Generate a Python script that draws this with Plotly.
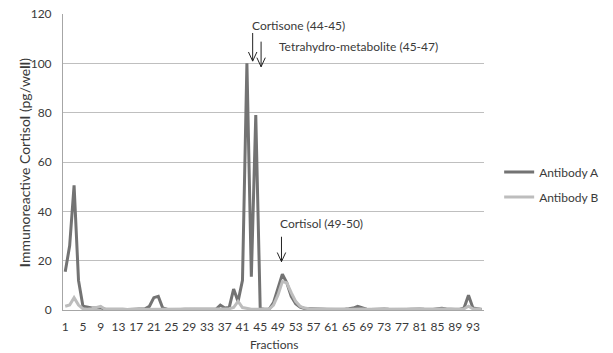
import plotly.graph_objects as go

fractions = list(range(1, 96))

antibody_a = [
    15.5, 26, 50.5, 12, 1.5, 1, 0.8, 0.8, 0.9, 0.3,
    0.3, 0.3, 0.6, 0.3, 0.2, 0.2, 0.2, 0.3, 0.5, 1.5,
    5, 5.5, 0.8, 0.3, 0.2, 0.2, 0.2, 0.3, 0.3, 0.2,
    0.2, 0.2, 0.2, 0.2, 0.3, 2, 0.8, 1, 8.5, 3.5,
    12, 100, 13.5, 79, 0.5, 0.3, 0.3, 3, 9, 14.5,
    11, 5.5, 2.5, 1.2, 0.6, 0.5, 0.4, 0.3, 0.5, 0.3,
    0.3, 0.2, 0.2, 0.3, 0.5, 0.8, 1.5, 0.8, 0.3, 0.2,
    0.3, 0.6, 0.4, 0.3, 0.2, 0.1, 0.1, 0.2, 0.3, 0.5,
    0.4, 0.3, 0.2, 0.2, 0.5, 0.7, 0.4, 0.2, 0.2, 0.2,
    0.8, 6, 0.8, 0.5, 0.2,
]

antibody_b = [
    1.5, 2, 5, 2, 0.5, 0.3, 0.5, 1, 1.5, 0.3,
    0.2, 0.2, 0.2, 0.2, 0.2, 0.2, 0.2, 0.2, 0.2, 0.3,
    0.3, 0.3, 0.2, 0.2, 0.2, 0.2, 0.3, 0.4, 0.5, 0.3,
    0.2, 0.2, 0.2, 0.2, 0.2, 0.3, 0.3, 0.5, 1, 3.5,
    1, 0.5, 0.3, 0.3, 0.3, 0.3, 0.3, 2, 6, 11.5,
    11, 7, 3.5, 1.5, 0.8, 0.5, 0.4, 0.3, 0.3, 0.3,
    0.3, 0.2, 0.2, 0.3, 0.3, 0.4, 0.6, 0.4, 0.3, 0.3,
    0.4, 0.4, 0.3, 0.3, 0.3, 0.3, 0.3, 0.3, 0.4, 0.4,
    0.3, 0.3, 0.3, 0.3, 0.4, 0.4, 0.3, 0.3, 0.3, 0.3,
    0.5, 1.5, 0.5, 0.4, 0.3,
]

tick_fractions = list(range(1, 95, 4))
tick_labels = [str(v) for v in tick_fractions]
y_ticks = [0, 20, 40, 60, 80, 100, 120]

FONT = "Lato, 'Open Sans', sans-serif"
TXT = "#3a3a3a"

fig = go.Figure()
fig.add_trace(go.Scatter(x=fractions, y=antibody_a, mode="lines", name="Antibody A",
                         line=dict(color="#737373", width=3), showlegend=True, legendgroup="a"))
fig.add_trace(go.Scatter(x=fractions, y=antibody_b, mode="lines", name="Antibody B",
                         line=dict(color="#bdbdbd", width=3), showlegend=True, legendgroup="b"))

# annotation arrows (open V heads)
arrows = [(43.3, 112.3, 100.9), (45.2, 108.8, 98.6), (49.8, 29.7, 19.6)]
for ax_, y0, y1 in arrows:
    dx = 0.95
    dy = 3.7
    fig.add_shape(type="path", xref="x", yref="y",
                  path=f"M {ax_},{y0} L {ax_},{y1} M {ax_-dx},{y1+dy} L {ax_},{y1} L {ax_+dx},{y1+dy}",
                  line=dict(color="#222222", width=1))

fig.add_annotation(x=53.6, y=115.5, xref="x", yref="y", text="Cortisone (44-45)",
                   showarrow=False, xanchor="center", yanchor="middle",
                   font=dict(family=FONT, size=12, color=TXT))
fig.add_annotation(x=48.8, y=106.7, xref="x", yref="y", text="Tetrahydro-metabolite (45-47)",
                   showarrow=False, xanchor="left", yanchor="middle",
                   font=dict(family=FONT, size=12, color=TXT))
fig.add_annotation(x=49.1, y=34.9, xref="x", yref="y", text="Cortisol (49-50)",
                   showarrow=False, xanchor="left", yanchor="middle",
                   font=dict(family=FONT, size=12, color=TXT))

fig.add_annotation(x=-0.092, y=0.5, xref="paper", yref="paper", textangle=-90,
                   xanchor="center", yanchor="middle",
                   text="<b>I</b>mmunoreactive Cortiso<b>l</b> (pg/we<b>ll</b>)",
                   showarrow=False, font=dict(family=FONT, size=14, color=TXT))
fig.add_annotation(x=0.5, y=-0.118, xref="paper", yref="paper", text="Fractions",
                   xanchor="center", yanchor="middle",
                   showarrow=False, font=dict(family=FONT, size=12, color=TXT))

fig.update_layout(
    width=613, height=353,
    margin=dict(l=63, r=129, t=14, b=43, autoexpand=False),
    paper_bgcolor="white", plot_bgcolor="white",
    font=dict(family=FONT, size=12, color=TXT),
    showlegend=True,
    xaxis=dict(range=[0.5, 95.5], tickmode="array", tickvals=tick_fractions, ticktext=tick_labels,
               showgrid=False, zeroline=False, showline=True, linecolor="#a6a6a6", linewidth=1,
               ticks="", ticklabelstandoff=6, tickfont=dict(size=12), automargin=False),
    yaxis=dict(range=[0, 120], tickvals=y_ticks, showgrid=True, gridcolor="#bfbfbf", gridwidth=1,
               zeroline=False, showline=True, linecolor="#a6a6a6", linewidth=1,
               ticks="", ticklabelstandoff=8, tickfont=dict(size=12), automargin=False),
    legend=dict(x=1.036, y=0.424, xanchor="left", yanchor="middle", bgcolor="rgba(0,0,0,0)",
                tracegroupgap=6, font=dict(family=FONT, size=12, color=TXT)),
)

fig.write_html("out.html", config={"displayModeBar": False},
               post_script="document.body.style.margin='0';document.body.style.overflow='hidden';")
